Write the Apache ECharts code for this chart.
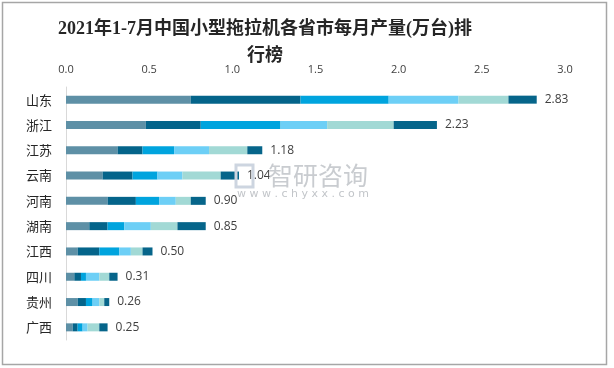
<!DOCTYPE html>
<html><head><meta charset="utf-8">
<script src="https://cdn.jsdelivr.net/npm/echarts@6/dist/echarts.min.js"></script>
<style>html,body{margin:0;padding:0;background:#fff}#c{width:614px;height:368px}</style>
</head><body><div id="c"></div>
<script>
const categories = ['山东','浙江','江苏','云南','河南','湖南','江西','四川','贵州','广西'];
const seg1 = [0.75, 0.48, 0.31, 0.22, 0.25, 0.14, 0.07, 0.05, 0.07, 0.04];
const seg2 = [0.66, 0.33, 0.15, 0.18, 0.17, 0.11, 0.13, 0.04, 0.05, 0.03];
const seg3 = [0.53, 0.48, 0.19, 0.15, 0.14, 0.10, 0.12, 0.03, 0.04, 0.03];
const seg4 = [0.42, 0.28, 0.21, 0.15, 0.10, 0.16, 0.07, 0.08, 0.04, 0.03];
const seg5 = [0.30, 0.40, 0.23, 0.23, 0.09, 0.16, 0.07, 0.06, 0.03, 0.07];
const seg6 = [0.17, 0.26, 0.09, 0.11, 0.09, 0.17, 0.06, 0.05, 0.03, 0.05];
const totals = ['2.83','2.23','1.18','1.04','0.90','0.85','0.50','0.31','0.26','0.25'];
const xTicks = [0, 0.5, 1.0, 1.5, 2.0, 2.5, 3.0];

const segs = [seg1, seg2, seg3, seg4, seg5, seg6];
const colors = ['#5e90a6', '#04648a', '#00a4de', '#6dcff6', '#a2d9d5', '#06658a'];

const chart = echarts.init(document.getElementById('c'));
const series = segs.map((d, i) => ({
  type: 'bar', stack: 'total', data: d, barWidth: 8,
  itemStyle: { color: colors[i] }, silent: true
}));
series.push({
  type: 'bar', stack: 'total', data: categories.map(() => 0), barWidth: 8,
  itemStyle: { color: 'transparent' },
  label: { show: true, position: 'right', distance: 8, color: '#404040', fontSize: 12,
    fontFamily: 'Open Sans, Noto Sans, sans-serif',
    formatter: p => totals[p.dataIndex] }
});

chart.setOption({
  animation: false,
  title: {
    text: '2021年1-7月中国小型拖拉机各省市每月产量(万台)排\n行榜',
    left: 260, top: 11, textAlign: 'center',
    textStyle: { fontSize: 18, fontWeight: 'bold', lineHeight: 27, color: '#262626',
      fontFamily: '"Liberation Serif", "Noto Sans CJK SC", serif' }
  },
  grid: { left: 66, right: 49, top: 87, height: 253, containLabel: false },
  xAxis: {
    type: 'value', position: 'top', min: xTicks[0], max: xTicks[xTicks.length-1], interval: 0.5,
    axisLine: { show: false }, axisTick: { show: false }, splitLine: { show: false },
    axisLabel: { color: '#404040', fontSize: 11, margin: 12, fontFamily: 'Open Sans, Noto Sans, sans-serif',
      formatter: v => v.toFixed(1) }
  },
  yAxis: {
    type: 'category', data: categories, inverse: true,
    axisLine: { show: true, lineStyle: { color: '#d9d9d9', width: 1 } },
    axisTick: { show: false },
    axisLabel: { color: '#262626', fontSize: 13, margin: 14, fontFamily: '"Noto Sans CJK SC", sans-serif' }
  },
  graphic: [
    { type: 'rect', shape: { x: 2.5, y: 2.5, width: 604, height: 362 }, style: { fill: 'none', stroke: '#a6a6a6', lineWidth: 1.5 }, silent: true, z: 100 },
    { type: 'rect', shape: { x: 236, y: 165, width: 17, height: 22 }, style: { fill: 'none', stroke: '#cdd5e0', lineWidth: 3 }, silent: true, z: 50 },
    { type: 'text', left: 268, top: 163, style: { text: '智研咨询', fill: '#c9ccd0', font: '25px "Noto Sans CJK SC"' }, silent: true, z: 50 },
    { type: 'text', left: 237, top: 189, style: { text: 'w w w . c h y x x . c o m', fill: '#c2c5c9', font: '11px "DejaVu Sans"' }, silent: true, z: 50 }
  ],
  series: series
});
</script></body></html>
